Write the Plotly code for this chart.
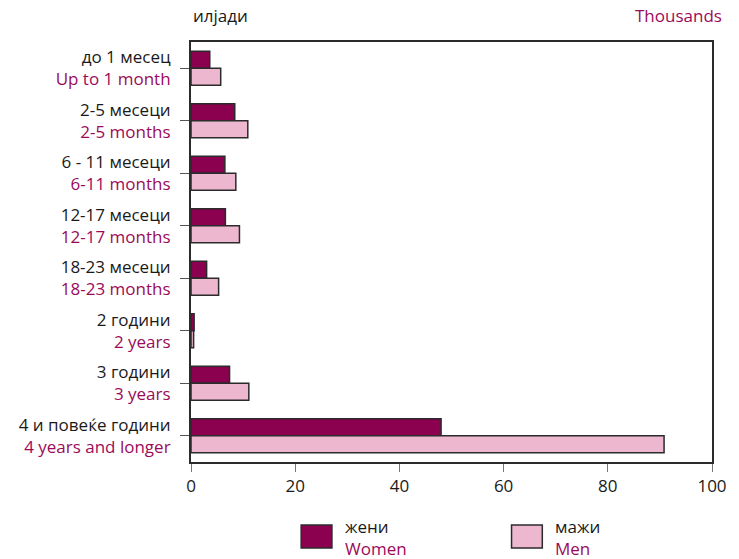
import plotly.graph_objects as go

# categories (Macedonian / English)
cats_mk = ["до 1 месец", "2-5 месеци", "6 - 11 месеци", "12-17 месеци",
           "18-23 месеци", "2 години", "3 години", "4 и повеќе години"]
cats_en = ["Up to 1 month", "2-5 months", "6-11 months", "12-17 months",
           "18-23 months", "2 years", "3 years", "4 years and longer"]

# thousands
women = [3.6, 8.4, 6.5, 6.6, 3.0, 0.6, 7.4, 48.0]
men = [5.7, 10.9, 8.6, 9.3, 5.3, 0.5, 11.1, 90.8]

x_ticks = [0, 20, 40, 60, 80, 100]

WINE = "#8c0050"
PINK = "#ecb7cf"
TXT2 = "#9b0a5a"
EDGE = "#2b2b2b"
INK = "#1a1a1a"
FONT = "Open Sans"
FS = 17

ticktext = [f"{mk}<br><span style='color:{TXT2}'>{en}</span>"
            for mk, en in zip(cats_mk, cats_en)]

fig = go.Figure()
fig.add_trace(go.Bar(y=cats_mk, x=women, orientation="h", name="жени",
                     marker=dict(color=WINE, line=dict(color=EDGE, width=1.5))))
fig.add_trace(go.Bar(y=cats_mk, x=men, orientation="h", name="мажи",
                     marker=dict(color=PINK, line=dict(color=EDGE, width=1.5))))

fig.update_layout(
    width=739, height=559,
    margin=dict(l=191, r=23, t=42, b=97),
    barmode="group", bargap=0.35, bargroupgap=0,
    plot_bgcolor="white", paper_bgcolor="white",
    showlegend=False,
    font=dict(family=FONT, size=FS, color=INK),
    xaxis=dict(range=[0, 100], tickvals=x_ticks, showgrid=False, zeroline=False,
               showline=True, linecolor=EDGE, linewidth=2, mirror=True,
               ticks="outside", ticklen=8, tickcolor="#777", tickwidth=1,
               tickfont=dict(size=FS, color=INK), fixedrange=True),
    yaxis=dict(categoryorder="array", categoryarray=cats_mk,
               autorange="reversed", tickvals=cats_mk, ticktext=ticktext,
               showgrid=False, showline=True, linecolor=EDGE, linewidth=2,
               mirror=True, ticks="outside", ticklen=9, tickcolor="#555",
               tickwidth=1, ticklabelstandoff=6,
               tickfont=dict(size=FS, color=INK), fixedrange=True),
)

# units
fig.add_annotation(text="илјади", xref="paper", yref="paper", x=0, y=1.03,
                   xanchor="left", yanchor="bottom", showarrow=False,
                   font=dict(size=FS, color=INK))
fig.add_annotation(text="Thousands", xref="paper", yref="paper", x=1.023, y=1.03,
                   xanchor="right", yanchor="bottom", showarrow=False,
                   font=dict(size=FS, color=TXT2))

# legend drawn by hand (big swatches)
def y_px(p):
    return (462 - p) / 420

for x0, col, mk, en in [(302, WINE, "жени", "Women"), (514, PINK, "мажи", "Men")]:
    fig.add_shape(type="rect", xref="paper", yref="paper",
                  x0=(x0 - 191) / 525, x1=(x0 + 31 - 191) / 525,
                  y0=y_px(548), y1=y_px(525),
                  fillcolor=col, line=dict(color=EDGE, width=1.5))
    fig.add_annotation(text=mk, xref="paper", yref="paper",
                       x=(x0 + 42 - 191) / 525, y=y_px(526), xanchor="left",
                       yanchor="middle", showarrow=False,
                       font=dict(size=FS, color=INK))
    fig.add_annotation(text=en, xref="paper", yref="paper",
                       x=(x0 + 42 - 191) / 525, y=y_px(548), xanchor="left",
                       yanchor="middle", showarrow=False,
                       font=dict(size=FS, color=TXT2))

fig.write_html("out.html", config={"displayModeBar": False},
               post_script="document.body.style.margin='0';")
